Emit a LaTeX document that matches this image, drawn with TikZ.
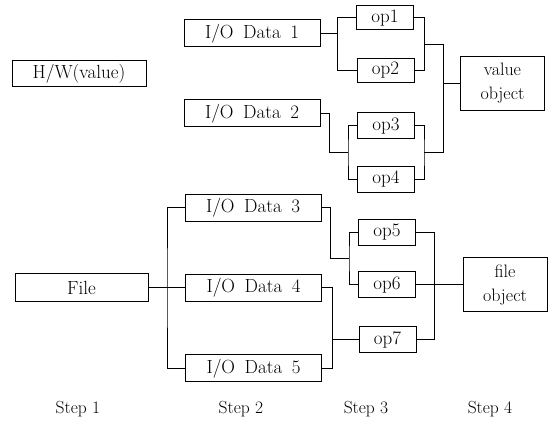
\documentclass[tikz,border=0pt]{standalone}
\usetikzlibrary{calc}
\newcommand\iotext[1]{I/O\hspace{0.5em}Data\hspace{0.5em}#1}
\begin{document}
\begin{tikzpicture}[x=1pt,y=-1pt,
  box/.style={draw, line width=1pt, inner sep=0pt, font=\fontsize{19}{22}\selectfont},
  iobox/.style={box, minimum width=136pt, minimum height=27pt},
  opbox/.style={box, minimum width=57pt, minimum height=26pt},
  objbox/.style={box, minimum width=84pt, minimum height=54pt, align=center, font=\fontsize{18}{24}\selectfont},
  wire/.style={line width=1pt},
  steplabel/.style={font=\fontsize{17.5}{20}\selectfont}]
\useasboundingbox (0,0) rectangle (555,435);

% nodes
\node[box, minimum width=134pt, minimum height=26pt] (hw) at (79,74) {H/W(value)};
\node[iobox] (io1) at (252,33.5) {\iotext{1}};
\node[iobox] (io2) at (252,113.5) {\iotext{2}};
\node[opbox, minimum height=24pt] (op1) at (385,18) {op1};
\node[opbox, minimum height=24pt] (op2) at (385.5,70.5) {op2};
\node[opbox] (op3) at (386,126) {op3};
\node[opbox] (op4) at (386,179.5) {op4};
\node[objbox] (vobj) at (502.5,83.5) {value\\object};

\node[box, minimum width=133pt, minimum height=28pt] (file) at (81.5,288) {File};
\node[iobox] (io3) at (253,208) {\iotext{3}};
\node[iobox] (io4) at (253.5,288) {\iotext{4}};
\node[iobox] (io5) at (253.5,368.5) {\iotext{5}};
\node[opbox] (op5) at (387,232.5) {op5};
\node[opbox] (op6) at (387,285) {op6};
\node[opbox] (op7) at (387.5,340) {op7};
\node[objbox] (fobj) at (505,285) {file\\object};

% step labels
\node[steplabel] (s1) at (78,409) {Step 1};
\node[steplabel] (s2) at (241,409) {Step 2};
\node[steplabel] (s3) at (366,409) {Step 3};
\node[steplabel] (s4) at (490,409) {Step 4};

% junction coordinates
\coordinate (vx) at (443,0);
\coordinate (a1) at ($(op1.west)!0.5!(op2.west)+(-19,0)$);
\coordinate (b1) at ($(op1.east)!0.5!(op2.east)+(10,0)$);
\coordinate (a2) at ($(op3.west)!0.5!(op4.west)+(-9,0)$);
\coordinate (b2) at ($(op3.east)!0.5!(op4.east)+(9,0)$);
\coordinate (a3) at ($(op5.west)!0.5!(op6.west)+(-9,0)$);
\coordinate (fx) at (167,0);
\coordinate (jx) at (332,0);

% top tree
\draw[wire] (io1.east) -- (io1.east -| a1);
\draw[wire] (op1.west) -| (a1) |- (op2.west);
\draw[wire] (op1.east) -| (b1) |- (op2.east);
\draw[wire] (b1) -- (b1 -| vx) -- (b2 -| vx) -- (b2);
\draw[wire] (vobj.west) -- (vobj.west -| vx);
\draw[wire] (io2.east) -- ++(9,0) |- (a2);
\draw[wire] (op3.west) -| (a2) |- (op4.west);
\draw[wire] (op3.east) -| (b2) |- (op4.east);

% bottom tree
\draw[wire] (file.east) -- (io4.west);
\draw[wire] (io3.west) -| (fx |- io4.west) |- (io5.west);
\draw[wire] (io3.east) -- ++(9,0) |- (a3);
\draw[wire] (op5.west) -| (a3) |- (op6.west);
\draw[wire] (op5.east) -- ++(18,0) |- (op7.east);
\draw[wire] (op6.east) -- (fobj.west);
\draw[wire] (io4.east) -| (jx |- io5.east) -- (io5.east);
\draw[wire] (op7.west) -- (op7.west -| jx);
\end{tikzpicture}
\end{document}
